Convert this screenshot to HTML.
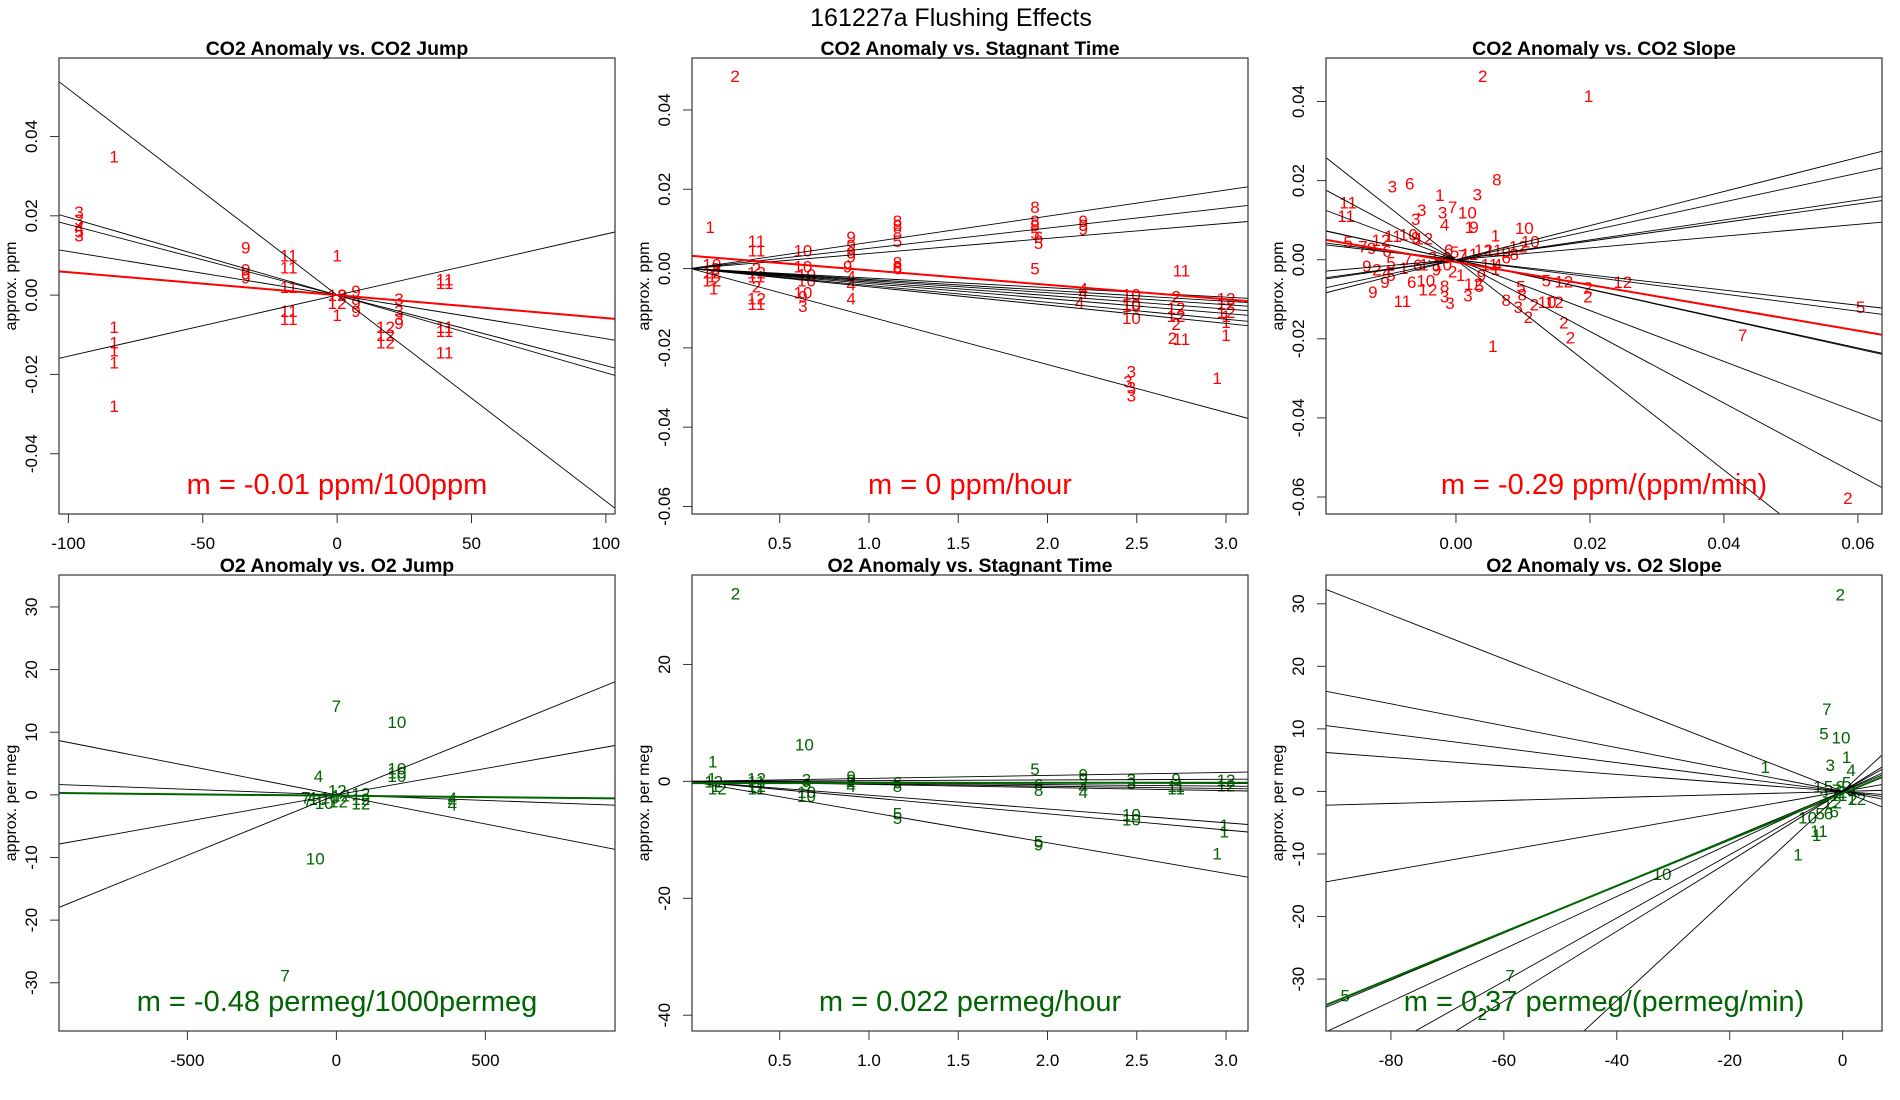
<!DOCTYPE html>
<html><head><meta charset="utf-8"><title>161227a Flushing Effects</title>
<style>
html,body{margin:0;padding:0;background:#fff;width:1900px;height:1100px;overflow:hidden;}
svg{display:block;font-family:"Liberation Sans",Arial,sans-serif;}
</style></head>
<body>
<svg id="fig" width="1900" height="1100" viewBox="0 0 1900 1100" xmlns="http://www.w3.org/2000/svg">
<text x="951" y="26" font-size="25" text-anchor="middle">161227a   Flushing Effects</text>
</svg>
<script>
// ---------- Panel 1: CO2 Anomaly vs CO2 Jump ----------
const p1X=[-83,-96,-96,-96,-96,-96,-34,-34,-34,-34,-18,-18,-18,-18,-18,0,0,2,0,0,7,7,7,23,23,23,23,18,18,18,40,40,40,40,40,-83,-83,-83,-83,-83];
const p1Y=[0.035,0.021,0.019,0.017,0.016,0.015,0.012,0.0065,0.0055,0.0045,0.010,0.007,0.002,-0.004,-0.006,0.010,0,0,-0.002,-0.005,0.001,-0.002,-0.004,-0.001,-0.004,-0.006,-0.007,-0.008,-0.010,-0.012,0.004,0.003,-0.008,-0.009,-0.0145,-0.008,-0.012,-0.014,-0.017,-0.028];
const p1L=["1","3","3","4","5","3","9","9","9","9","11","11","11","11","11","1","12","9","12","1","9","9","9","3","3","3","9","12","12","12","11","11","11","11","11","1","1","1","1","1"];
const p1Slopes=[-0.00052,-0.000196,-0.000178,-0.00011,0.000154];
const p1Fit=[0,-0.000058];
const p1XTicks=[-100,-50,0,50,100];
const p1YTicks=[0.04,0.02,0,-0.02,-0.04];
const p1YTickLabels=["0.04","0.02","0.00","-0.02","-0.04"];

// ---------- Panel 2: CO2 Anomaly vs Stagnant Time ----------
const p2X=[0.11,0.25,0.12,0.12,0.12,0.14,0.12,0.13,0.37,0.37,0.37,0.37,0.37,0.37,0.37,0.37,0.63,0.63,0.65,0.65,0.63,0.63,0.63,0.9,0.9,0.9,0.9,0.88,0.9,0.9,0.9,1.16,1.16,1.16,1.16,1.16,1.16,1.16,1.93,1.93,1.93,1.93,1.95,1.95,1.93,2.2,2.2,2.2,2.2,2.2,2.18,2.47,2.47,2.47,2.47,2.47,2.45,2.47,2.47,2.72,2.72,2.72,2.72,2.7,2.75,2.75,3.0,3.0,3.0,3.0,3.0,3.0,2.95];
const p2Y=[0.0105,0.0486,0.001,-0.001,-0.002,0,-0.003,-0.005,0.007,0.0045,0,-0.001,-0.002,-0.0045,-0.0075,-0.009,0.0045,0.0005,-0.0015,-0.003,-0.006,-0.007,-0.0095,0.008,0.006,0.004,0.003,0.0005,-0.002,-0.004,-0.0075,0.012,0.011,0.009,0.007,0.0015,0.0005,0,0.0155,0.012,0.011,0.009,0.008,0.0065,0,0.012,0.011,0.010,-0.005,-0.006,-0.0085,-0.0065,-0.009,-0.0095,-0.0125,-0.026,-0.0285,-0.030,-0.032,-0.007,-0.010,-0.012,-0.014,-0.0175,-0.0178,-0.0005,-0.0075,-0.009,-0.011,-0.012,-0.0135,-0.0168,-0.0276];
const p2L=["1","2","10","12","1","2","12","1","11","11","2","12","11","2","12","11","10","10","10","10","10","9","3","9","9","9","9","9","4","4","4","8","8","8","5","8","8","6","8","8","8","5","6","5","5","9","9","9","4","4","4","10","10","10","10","3","3","3","3","2","12","12","2","2","11","11","12","12","12","1","1","1","1"];
const p2Slopes=[0.0066,0.0051,0.0038,-0.0024,-0.00275,-0.00304,-0.0034,-0.00378,-0.00426,-0.00461,-0.0121];
const p2Fit=[0.00323,-0.00366];
const p2XTicks=[0.5,1.0,1.5,2.0,2.5,3.0];
const p2XTickLabels=["0.5","1.0","1.5","2.0","2.5","3.0"];
const p2YTicks=[0.04,0.02,0,-0.02,-0.04,-0.06];
const p2YTickLabels=["0.04","0.02","0.00","-0.02","-0.04","-0.06"];

// ---------- Panel 3: CO2 Anomaly vs CO2 Slope ----------
const p3X=[0.0040,0.0198,-0.0095,-0.0069,0.0061,-0.0024,0.0032,-0.0005,-0.0020,0.0017,-0.0051,-0.0060,-0.0017,0.0020,0.0027,0.0059,0.0102,0.0111,0.0093,-0.0161,-0.0164,-0.0161,-0.0139,-0.0126,-0.0112,-0.0094,-0.0071,-0.0048,-0.0060,-0.0103,-0.0097,-0.0133,-0.0118,-0.0103,-0.0097,-0.0106,-0.0124,-0.0078,-0.0072,-0.0057,-0.0066,-0.0045,-0.0042,-0.0080,-0.0017,-0.0017,-0.0009,0.0018,0.0026,0.0035,0.0038,0.0007,-0.0005,-0.0029,-0.0020,-0.0014,-0.0002,0.0010,0.0020,0.0041,0.0056,0.0075,0.0087,0.0075,0.0062,0.0050,0.0059,-0.0011,-0.0035,-0.0048,0.0075,0.0093,0.0097,0.0099,0.0108,0.0117,0.0136,0.0147,0.0135,0.0161,0.0197,0.0197,0.0161,0.0171,0.0055,0.0249,0.0428,0.0604,0.0585];
const p3Y=[0.0464,0.0414,0.0185,0.0193,0.0203,0.0164,0.0165,0.0133,0.0119,0.0119,0.0126,0.0103,0.0089,0.0083,0.0083,0.0061,0.0080,0.0046,0.0033,0.0144,0.0110,0.0045,0.0033,0.0030,0.0050,0.0060,0.0064,0.0054,0.0056,0.0022,-0.0007,-0.0016,-0.0025,-0.0030,-0.0039,-0.0057,-0.0082,-0.0021,0.0002,-0.0014,-0.0057,-0.0053,-0.0075,-0.0105,-0.0066,-0.0093,-0.0109,-0.0091,-0.0061,-0.0066,-0.0039,-0.0039,-0.0030,-0.0025,-0.0012,0.0006,0.0020,0.0011,0.0015,0.0024,0.0024,0.0020,0.0014,0.0006,-0.0012,-0.0012,-0.0023,0.0024,0.0006,-0.0012,-0.0102,-0.0120,-0.0068,-0.0088,-0.0145,-0.0113,-0.0107,-0.0107,-0.0052,-0.0055,-0.0070,-0.0093,-0.0159,-0.0197,-0.0218,-0.0057,-0.0191,-0.0120,-0.0603];
const p3L=["2","1","3","6","8","1","3","7","3","10","3","3","4","1","9","1","10","10","12","11","11","5","7","9","12","11","10","12","9","6","5","9","2","4","5","9","9","1","7","6","6","10","12","11","8","3","3","3","12","5","9","1","2","9","10","6","5","7","11","12","11","9","8","6","4","11","1","6","3","1","8","3","5","8","2","2","10","12","5","12","2","2","2","2","1","12","7","5","2"];
const p3Slopes=[0.431,0.365,0.251,0.235,0.149,-0.192,-0.217,-0.376,-0.372,-0.643,-0.906,-1.33];
const p3Fit=[-0.0006,-0.289];
const p3XTicks=[0,0.02,0.04,0.06];
const p3XTickLabels=["0.00","0.02","0.04","0.06"];
const p3YTicks=[0.04,0.02,0,-0.02,-0.04,-0.06];
const p3YTickLabels=["0.04","0.02","0.00","-0.02","-0.04","-0.06"];

// ---------- Panel 4: O2 Anomaly vs O2 Jump ----------
const p4X=[0,203,203,203,203,-60,-172,-71,-103,-96,-82,-62,-41,-21,3,14,7,82,82,82,389,389,389];
const p4Y=[14.2,11.6,4.2,3.6,3.0,3.0,-28.8,-10.2,-0.4,-0.9,-0.4,-0.7,-1.3,-0.4,0.7,-0.1,-1.1,0.2,-0.7,-1.4,-0.5,-1.0,-1.5];
const p4L=["7","10","10","10","10","4","7","10","7","7","4","10","10","10","12","12","12","12","12","12","4","4","4"];
const p4Slopes=[0.0193,0.00843,-0.00177,-0.0093];
const p4Fit=[-0.14,-0.00046];
const p4XTicks=[-500,0,500];
const p4YTicks=[30,20,10,0,-10,-20,-30];

// ---------- Panel 5: O2 Anomaly vs Stagnant Time ----------
const p5X=[0.125,0.252,0.638,0.12,0.13,0.14,0.15,0.37,0.37,0.37,0.37,0.65,0.65,0.65,0.65,0.9,0.9,0.9,0.9,1.16,1.16,1.16,1.16,1.93,1.95,1.95,1.95,1.95,2.2,2.2,2.2,2.2,2.47,2.47,2.47,2.47,2.72,2.72,2.72,3.0,3.0,2.99,2.99,2.95];
const p5Y=[3.4,32.1,6.3,0.5,0,-0.8,-1.2,0.5,0,-0.8,-1.2,0.3,-0.6,-1.8,-2.5,0.8,0.2,-0.4,-0.8,-0.2,-0.8,-5.5,-6.3,2.1,-0.5,-1.5,-10.3,-10.8,1.2,0.5,-1,-1.8,0.3,-0.3,-5.7,-6.5,0.4,-0.8,-1.2,0.2,-0.7,-7.5,-8.6,-12.3];
const p5L=["1","2","10","1","12","1","12","12","11","12","11","3","9","10","10","9","9","4","4","6","8","5","5","5","6","8","5","9","9","9","4","4","3","3","10","10","9","11","11","12","12","1","1","1"];
const p5Slopes=[0.509,0.118,-0.118,-0.272,-0.41,-0.528,-2.363,-2.773,-5.25];
const p5Fit=[-0.3,0.022];
const p5XTicks=[0.5,1.0,1.5,2.0,2.5,3.0];
const p5XTickLabels=["0.5","1.0","1.5","2.0","2.5","3.0"];
const p5YTicks=[20,0,-20,-40];

// ---------- Panel 6: O2 Anomaly vs O2 Slope ----------
const p6X=[-0.4,-2.8,-3.3,-0.3,0.7,-13.7,-2.2,1.5,-32,-7.9,-4.2,-4.6,-6.2,-4.0,-2.5,-1.5,-4.4,-2.5,-1.1,0,1.5,1.8,2.5,-3.3,-1.8,-0.4,0.7,-0.7,-88.1,-63.8,-58.9];
const p6Y=[31.5,13.2,9.3,8.6,5.5,3.9,4.2,3.4,-13.2,-10.1,-6.3,-7.0,-4.2,-3.5,-3.5,-3.2,0.8,0.8,0.2,-0.1,0.2,-1.2,-1.2,-0.9,-1.8,0.8,1.4,-0.6,-32.6,-35.6,-29.4];
const p6L=["2","7","5","10","1","1","3","4","10","1","11","1","10","5","6","6","1","5","7","2","9","2","12","3","12","8","5","11","5","2","7"];
const p6Slopes=[-0.353,-0.175,-0.115,-0.068,0.024,0.158,0.377,0.42,0.506,0.559,0.836];
const p6Fit=[-0.3,0.37];
const p6XTicks=[-80,-60,-40,-20,0];
const p6YTicks=[30,20,10,0,-10,-20,-30];

const NS="http://www.w3.org/2000/svg";
const svg=document.getElementById('fig');
function mk(tag,attrs,parent){const e=document.createElementNS(NS,tag);for(const k in attrs)e.setAttribute(k,attrs[k]);(parent||svg).appendChild(e);return e;}

function panel(id,box,xd,yd,X,Y,L,slopes,fit,xt,xtl,yt,ytl,color,title,ylab,mtext){
  const g=mk('g',{});
  
  
  const sx=v=>box[0]+(v-xd[0])/(xd[1]-xd[0])*(box[2]-box[0]);
  const sy=v=>box[3]-(v-yd[0])/(yd[1]-yd[0])*(box[3]-box[1]);
  const cp=mk('clipPath',{id:id+'-clip'},g);
  mk('rect',{x:box[0],y:box[1],width:box[2]-box[0],height:box[3]-box[1]},cp);
  const t=mk('text',{x:(box[0]+box[2])/2,y:box[1]-3,'font-size':19.5,'font-weight':'bold','text-anchor':'middle'},g);
  t.textContent=title;
  
  
  const yl=mk('text',{x:0,y:0,'font-size':16,'text-anchor':'middle',transform:`translate(${box[0]-43},${(box[1]+box[3])/2}) rotate(-90)`},g);
  yl.textContent=ylab;
  
  
  const xa=mk('g',{},g);
  
  
  xt.forEach((v,i)=>{
    const px=sx(v);
    mk('line',{x1:px,x2:px,y1:box[3],y2:box[3]+9,stroke:'#333','stroke-width':1},xa);
    const tl=mk('text',{x:px,y:box[3]+35,'font-size':17,'text-anchor':'middle'},xa);
    tl.textContent=xtl?xtl[i]:String(v);
    
    
  });
  const ya=mk('g',{},g);
  
  
  yt.forEach((v,i)=>{
    const py=sy(v);
    mk('line',{x1:box[0]-9,x2:box[0],y1:py,y2:py,stroke:'#333','stroke-width':1},ya);
    const tl=mk('text',{x:0,y:0,'font-size':17,'text-anchor':'middle',transform:`translate(${box[0]-22},${py}) rotate(-90)`},ya);
    tl.textContent=ytl?ytl[i]:String(v);
    
    
  });
  const inner=mk('g',{'clip-path':`url(#${id}-clip)`},g);
  X.forEach((x,i)=>{
    const pt=mk('text',{x:sx(x),y:sy(Y[i])+6,'font-size':17,'text-anchor':'middle',fill:color},inner);
    pt.textContent=L[i];
    
    
  });
  slopes.forEach(b=>{
    const ln=mk('line',{x1:sx(xd[0]),y1:sy(b*xd[0]),x2:sx(xd[1]),y2:sy(b*xd[1]),stroke:'#000','stroke-width':0.9},inner);
    
    
  });
  const fl=mk('line',{x1:sx(xd[0]),y1:sy(fit[0]+fit[1]*xd[0]),x2:sx(xd[1]),y2:sy(fit[0]+fit[1]*xd[1]),stroke:color,'stroke-width':2},inner);
  
  
  const mt=mk('text',{x:(box[0]+box[2])/2,y:box[3]-20,'font-size':29,'text-anchor':'middle',fill:color},g);
  mt.textContent=mtext;
  
  
  const fr=mk('rect',{x:box[0],y:box[1],width:box[2]-box[0],height:box[3]-box[1],fill:'none',stroke:'#333','stroke-width':1.2},g);
  
  
}
const R='#ff0000',G='#006400';
const r1=[58,514],r2=[575,1031];
panel('co2-jump-panel',[59,r1[0],615,r1[1]],[-103.5,103.4],[-0.0552,0.0598],p1X,p1Y,p1L,p1Slopes,p1Fit,p1XTicks,null,p1YTicks,p1YTickLabels,R,'CO2 Anomaly vs. CO2 Jump','approx. ppm','m = -0.01 ppm/100ppm');
panel('co2-stagnant-panel',[692,r1[0],1248,r1[1]],[0.0087,3.123],[-0.0619,0.0531],p2X,p2Y,p2L,p2Slopes,p2Fit,p2XTicks,p2XTickLabels,p2YTicks,p2YTickLabels,R,'CO2 Anomaly vs. Stagnant Time','approx. ppm','m = 0 ppm/hour');
panel('co2-slope-panel',[1326,r1[0],1882,r1[1]],[-0.0194,0.0636],[-0.0643,0.051],p3X,p3Y,p3L,p3Slopes,p3Fit,p3XTicks,p3XTickLabels,p3YTicks,p3YTickLabels,R,'CO2 Anomaly vs. CO2 Slope','approx. ppm','m = -0.29 ppm/(ppm/min)');
panel('o2-jump-panel',[59,r2[0],615,r2[1]],[-931,935],[-37.7,35.1],p4X,p4Y,p4L,p4Slopes,p4Fit,p4XTicks,null,p4YTicks,null,G,'O2 Anomaly vs. O2 Jump','approx. per meg','m = -0.48 permeg/1000permeg');
panel('o2-stagnant-panel',[692,r2[0],1248,r2[1]],[0.0087,3.123],[-42.7,35.3],p5X,p5Y,p5L,p5Slopes,p5Fit,p5XTicks,p5XTickLabels,p5YTicks,null,G,'O2 Anomaly vs. Stagnant Time','approx. per meg','m = 0.022 permeg/hour');
panel('o2-slope-panel',[1326,r2[0],1882,r2[1]],[-91.5,6.97],[-38.3,34.6],p6X,p6Y,p6L,p6Slopes,p6Fit,p6XTicks,null,p6YTicks,null,G,'O2 Anomaly vs. O2 Slope','approx. per meg','m = 0.37 permeg/(permeg/min)');
</script>
</body></html>
